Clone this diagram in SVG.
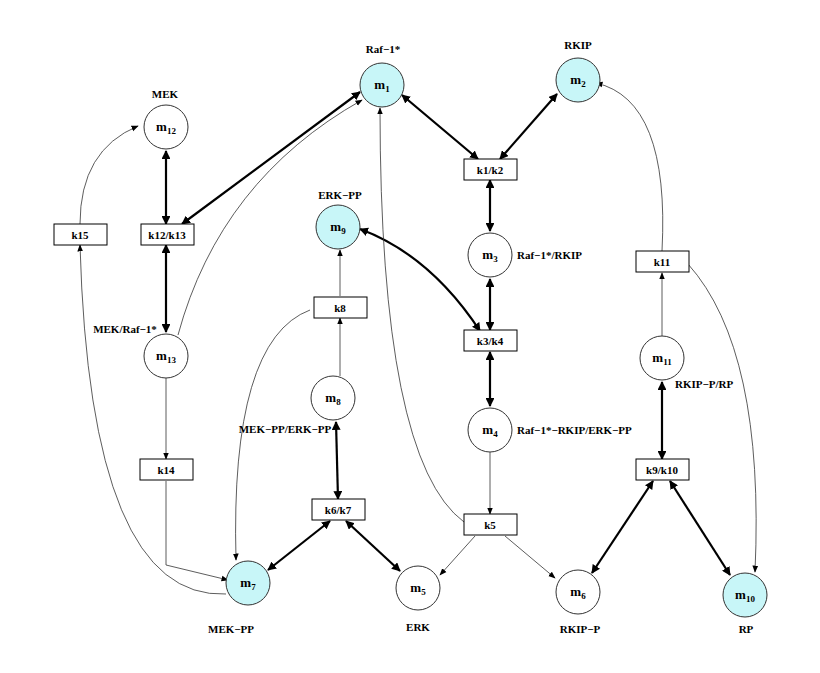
<svg xmlns="http://www.w3.org/2000/svg" width="820" height="673" viewBox="0 0 820 673">
<style>
.n{fill:#fff;stroke:#333;stroke-width:1}
.c{fill:#c8f6f8}
.b{fill:#fff;stroke:#000;stroke-width:1}
text{font-family:"Liberation Serif",serif;font-weight:bold;font-size:11px;fill:#000}
.m{font-size:13px;text-anchor:middle}
.t{text-anchor:middle}
.th{stroke:#000;stroke-width:2.2;fill:none;marker-start:url(#a);marker-end:url(#a)}
.tn{stroke:#333;stroke-width:0.8;fill:none;marker-end:url(#s)}
</style>
<defs>
<marker id="a" viewBox="0 0 10 10" refX="9" refY="5" markerWidth="4" markerHeight="4" orient="auto-start-reverse" markerUnits="strokeWidth"><path d="M0,0L10,5L0,10z" fill="#000"/></marker>
<marker id="s" viewBox="0 0 10 10" refX="9" refY="5" markerWidth="9" markerHeight="9" orient="auto" markerUnits="strokeWidth"><path d="M0,1L10,5L0,9z" fill="#000"/></marker>
</defs>
<rect width="820" height="673" fill="#fff"/>
<g id="connectors">
<path class="th" d="M182,224L360,92"/>
<path class="th" d="M402,95L478,159"/>
<path class="th" d="M557,94L500,159"/>
<path class="th" d="M490,180L490,231"/>
<path class="th" d="M490,279L490,330"/>
<path class="th" d="M360,229Q430,255 480,331"/>
<path class="th" d="M490,352L490,406"/>
<path class="th" d="M166,151L166,224"/>
<path class="th" d="M166,245L166,332"/>
<path class="th" d="M336,422L338,499"/>
<path class="th" d="M330,521L268,570"/>
<path class="th" d="M346,521L400,571"/>
<path class="th" d="M662,382L662,459"/>
<path class="th" d="M653,481L592,573"/>
<path class="th" d="M670,481L730,575"/>
<path class="tn" d="M80,224Q80,150 138,126"/>
<path class="tn" d="M226,594Q90,600 80,245"/>
<path class="tn" d="M166,378L166,459"/>
<path class="tn" d="M166,481L166,565L228,580"/>
<path class="tn" d="M178,335Q220,180 362,100"/>
<path class="tn" d="M464,522Q380,460 380,108"/>
<path class="tn" d="M490,452L490,514"/>
<path class="tn" d="M475,536L440,575"/>
<path class="tn" d="M505,536L555,578"/>
<path class="tn" d="M340,296L340,250"/>
<path class="tn" d="M340,376L340,318"/>
<path class="tn" d="M310,310Q230,340 236,560"/>
<path class="tn" d="M662,336L662,273"/>
<path class="tn" d="M662,251Q670,100 596,83"/>
<path class="tn" d="M688,264Q765,350 755,572"/>
</g>
<g id="m1"><circle class="n c" cx="382" cy="85" r="22"/><text class="m" x="382" y="89">m<tspan font-size="9" dy="3">1</tspan></text><text class="t" x="383" y="53">Raf−1*</text></g>
<g id="m2"><circle class="n c" cx="578" cy="80" r="22"/><text class="m" x="578" y="84">m<tspan font-size="9" dy="3">2</tspan></text><text class="t" x="578" y="49">RKIP</text></g>
<g id="m12"><circle class="n" cx="166" cy="127" r="22"/><text class="m" x="166" y="131">m<tspan font-size="9" dy="3">12</tspan></text><text class="t" x="165" y="98">MEK</text></g>
<g id="m9"><circle class="n c" cx="338" cy="227" r="22"/><text class="m" x="338" y="231">m<tspan font-size="9" dy="3">9</tspan></text><text class="t" x="340" y="199">ERK−PP</text></g>
<g id="m3"><circle class="n" cx="490" cy="255" r="22"/><text class="m" x="490" y="259">m<tspan font-size="9" dy="3">3</tspan></text><text x="517" y="259">Raf−1*/RKIP</text></g>
<g id="m13"><circle class="n" cx="166" cy="356" r="22"/><text class="m" x="166" y="360">m<tspan font-size="9" dy="3">13</tspan></text><text class="t" x="125" y="333">MEK/Raf−1*</text></g>
<g id="m8"><circle class="n" cx="333" cy="398" r="22"/><text class="m" x="333" y="402">m<tspan font-size="9" dy="3">8</tspan></text><text class="t" x="285" y="433">MEK−PP/ERK−PP</text></g>
<g id="m4"><circle class="n" cx="490" cy="430" r="22"/><text class="m" x="490" y="434">m<tspan font-size="9" dy="3">4</tspan></text><text x="517" y="434">Raf−1*−RKIP/ERK−PP</text></g>
<g id="m11"><circle class="n" cx="662" cy="358" r="22"/><text class="m" x="662" y="362">m<tspan font-size="9" dy="3">11</tspan></text><text x="675" y="388">RKIP−P/RP</text></g>
<g id="m7"><circle class="n c" cx="248" cy="583" r="22"/><text class="m" x="248" y="587">m<tspan font-size="9" dy="3">7</tspan></text><text class="t" x="231" y="633">MEK−PP</text></g>
<g id="m5"><circle class="n" cx="418" cy="588" r="22"/><text class="m" x="418" y="592">m<tspan font-size="9" dy="3">5</tspan></text><text class="t" x="418" y="631">ERK</text></g>
<g id="m6"><circle class="n" cx="578" cy="592" r="22"/><text class="m" x="578" y="596">m<tspan font-size="9" dy="3">6</tspan></text><text class="t" x="580" y="633">RKIP−P</text></g>
<g id="m10"><circle class="n c" cx="745" cy="595" r="22"/><text class="m" x="745" y="599">m<tspan font-size="9" dy="3">10</tspan></text><text class="t" x="746" y="633">RP</text></g>
<g id="k1k2"><rect class="b" x="464" y="159" width="53" height="21"/><text class="t" x="490" y="174">k1/k2</text></g>
<g id="k15"><rect class="b" x="54" y="224" width="53" height="21"/><text class="t" x="80" y="239">k15</text></g>
<g id="k12k13"><rect class="b" x="141" y="224" width="53" height="21"/><text class="t" x="167" y="239">k12/k13</text></g>
<g id="k11"><rect class="b" x="636" y="251" width="53" height="21"/><text class="t" x="662" y="266">k11</text></g>
<g id="k8"><rect class="b" x="314" y="297" width="53" height="21"/><text class="t" x="340" y="312">k8</text></g>
<g id="k3k4"><rect class="b" x="464" y="330" width="53" height="21"/><text class="t" x="490" y="345">k3/k4</text></g>
<g id="k14"><rect class="b" x="140" y="459" width="53" height="21"/><text class="t" x="166" y="474">k14</text></g>
<g id="k9k10"><rect class="b" x="636" y="459" width="53" height="21"/><text class="t" x="662" y="474">k9/k10</text></g>
<g id="k6k7"><rect class="b" x="312" y="499" width="53" height="21"/><text class="t" x="338" y="514">k6/k7</text></g>
<g id="k5"><rect class="b" x="464" y="514" width="53" height="21"/><text class="t" x="490" y="529">k5</text></g>
</svg>
